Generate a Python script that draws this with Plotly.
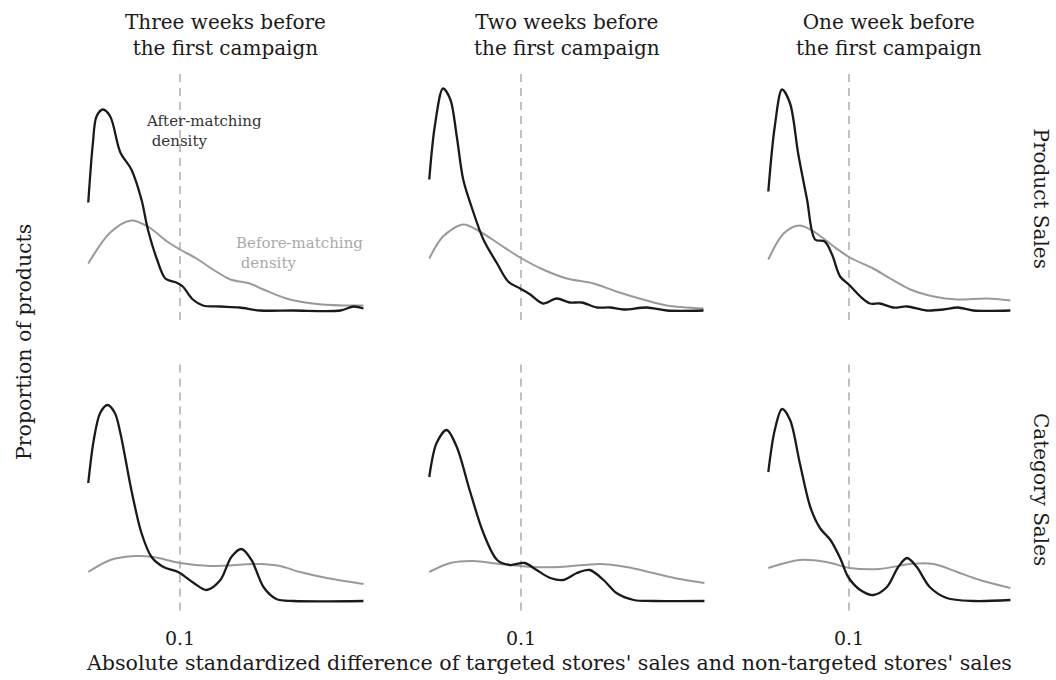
import plotly.graph_objects as go

# ---------------- data ----------------
col_titles = ["Three weeks before<br>the first campaign",
              "Two weeks before<br>the first campaign",
              "One week before<br>the first campaign"]
row_titles = ["Product Sales", "Category Sales"]
threshold = 0.1
tick_vals = [0.1]
tick_text = ["0.1"]

# Product Sales – three weeks before
p1_after_x = [0.000, 0.005, 0.009, 0.016, 0.024, 0.035, 0.047, 0.058, 0.065, 0.075, 0.084, 0.096, 0.103,
              0.114, 0.125, 0.144, 0.165, 0.187, 0.223, 0.275, 0.289, 0.300]
p1_after_y = [10.8, 16.7, 19.4, 20.1, 19.4, 15.8, 14.1, 11.1, 8.1, 5.1, 3.2, 2.8, 2.4,
              1.1, 0.5, 0.4, 0.3, 0.0, 0.0, 0.0, 0.4, 0.2]
p1_before_x = [0.000, 0.024, 0.047, 0.065, 0.086, 0.100, 0.118, 0.136, 0.155, 0.176, 0.191, 0.216, 0.245, 0.278, 0.300]
p1_before_y = [4.7, 7.8, 9.0, 8.4, 6.9, 6.1, 5.2, 4.1, 3.1, 2.7, 2.1, 1.2, 0.7, 0.5, 0.5]

# Product Sales – two weeks before
p2_after_x = [0.000, 0.006, 0.015, 0.023, 0.030, 0.037, 0.046, 0.059, 0.074, 0.086, 0.099, 0.110, 0.124,
              0.139, 0.153, 0.166, 0.183, 0.197, 0.212, 0.237, 0.259, 0.299]
p2_after_y = [13.1, 18.4, 22.2, 21.1, 17.4, 13.1, 10.4, 7.1, 4.7, 2.9, 2.2, 1.6, 0.7,
              1.2, 0.8, 0.8, 0.3, 0.3, 0.1, 0.3, 0.0, 0.0]
p2_before_x = [0.000, 0.015, 0.037, 0.055, 0.077, 0.099, 0.124, 0.150, 0.179, 0.204, 0.233, 0.259, 0.299]
p2_before_y = [5.2, 7.4, 8.6, 7.9, 6.6, 5.3, 4.1, 3.2, 2.7, 1.9, 1.1, 0.5, 0.2]

# Product Sales – one week before
p3_after_x = [0.000, 0.008, 0.017, 0.027, 0.037, 0.048, 0.058, 0.070, 0.079, 0.089, 0.101, 0.114, 0.126,
              0.138, 0.155, 0.172, 0.196, 0.217, 0.235, 0.254, 0.300]
p3_after_y = [11.9, 18.4, 22.1, 20.7, 15.7, 11.1, 7.1, 6.9, 5.6, 3.4, 2.5, 1.4, 0.7,
              0.7, 0.3, 0.4, 0.0, 0.1, 0.3, 0.0, 0.0]
p3_before_x = [0.000, 0.019, 0.039, 0.060, 0.081, 0.101, 0.130, 0.151, 0.176, 0.205, 0.234, 0.271, 0.300]
p3_before_y = [5.1, 7.7, 8.5, 7.7, 6.4, 5.3, 4.2, 3.2, 2.1, 1.4, 1.1, 1.2, 1.0]

# Category Sales – three weeks before
c1_after_x = [0.000, 0.006, 0.013, 0.021, 0.029, 0.035, 0.047, 0.058, 0.069, 0.082, 0.098, 0.115, 0.129,
              0.144, 0.156, 0.167, 0.178, 0.191, 0.205, 0.224, 0.300]
c1_after_y = [11.8, 16.1, 18.8, 19.6, 18.8, 16.8, 11.1, 6.8, 4.4, 3.4, 2.9, 1.8, 1.1,
              2.1, 4.4, 5.2, 4.1, 1.4, 0.2, 0.0, 0.0]
c1_before_x = [0.000, 0.024, 0.051, 0.071, 0.100, 0.133, 0.187, 0.209, 0.231, 0.260, 0.300]
c1_before_y = [2.9, 4.1, 4.5, 4.4, 3.8, 3.5, 3.7, 3.5, 2.9, 2.3, 1.7]

# Category Sales – two weeks before
c2_after_x = [0.000, 0.008, 0.019, 0.030, 0.044, 0.059, 0.074, 0.088, 0.104, 0.117, 0.132, 0.146, 0.161,
              0.175, 0.190, 0.204, 0.223, 0.244, 0.300]
c2_after_y = [12.4, 15.8, 17.1, 15.4, 11.1, 6.8, 4.1, 3.6, 3.8, 3.1, 2.3, 2.1, 2.8,
              3.1, 2.1, 0.8, 0.1, 0.0, 0.0]
c2_before_x = [0.000, 0.023, 0.048, 0.077, 0.113, 0.143, 0.186, 0.215, 0.244, 0.273, 0.300]
c2_before_y = [2.9, 3.8, 4.0, 3.7, 3.4, 3.4, 3.7, 3.4, 2.8, 2.2, 1.8]

# Category Sales – one week before
c3_after_x = [0.000, 0.008, 0.017, 0.027, 0.039, 0.052, 0.064, 0.077, 0.089, 0.099, 0.114, 0.130, 0.147,
              0.161, 0.172, 0.184, 0.200, 0.221, 0.254, 0.300]
c3_after_y = [12.9, 17.1, 19.2, 18.1, 13.8, 9.4, 7.3, 6.1, 4.3, 2.4, 1.1, 0.6, 1.4,
              3.4, 4.3, 3.4, 1.4, 0.3, 0.0, 0.1]
c3_before_x = [0.000, 0.039, 0.072, 0.101, 0.138, 0.176, 0.205, 0.234, 0.262, 0.300]
c3_before_y = [3.3, 4.1, 3.9, 3.3, 3.2, 3.7, 3.7, 2.9, 2.1, 1.3]

after_series = [[(p1_after_x, p1_after_y), (p2_after_x, p2_after_y), (p3_after_x, p3_after_y)],
                [(c1_after_x, c1_after_y), (c2_after_x, c2_after_y), (c3_after_x, c3_after_y)]]
before_series = [[(p1_before_x, p1_before_y), (p2_before_x, p2_before_y), (p3_before_x, p3_before_y)],
                 [(c1_before_x, c1_before_y), (c2_before_x, c2_before_y), (c3_before_x, c3_before_y)]]

# ---------------- layout geometry ----------------
W, H = 1056, 680
FONT = "DejaVu Serif"
BLACK = "#1a1a1a"
GREY = "#999999"
DASH = "#c0c0c0"

col_px = [(74.5, 377.2), (415.5, 718.2), (756.2, 1022.5)]
row_px = [(73.0, 320.0), (363.5, 610.5)]
x_range = [-0.015, 0.315]
y_range = [-0.95, 23.75]

fig = go.Figure()

for r in range(2):
    for c in range(3):
        idx = r * 3 + c + 1
        xa = "x" if idx == 1 else f"x{idx}"
        ya = "y" if idx == 1 else f"y{idx}"
        bx, by = before_series[r][c]
        ax, ay = after_series[r][c]
        fig.add_trace(go.Scatter(x=bx, y=by, mode="lines", xaxis=xa, yaxis=ya,
                                 line=dict(color=GREY, width=2, shape="spline", smoothing=0.9),
                                 showlegend=False, hoverinfo="skip"))
        fig.add_trace(go.Scatter(x=ax, y=ay, mode="lines", xaxis=xa, yaxis=ya,
                                 line=dict(color=BLACK, width=2.3, shape="spline", smoothing=0.9),
                                 showlegend=False, hoverinfo="skip"))
        fig.add_shape(type="line", xref=xa, yref=f"{ya} domain", x0=threshold, x1=threshold,
                      y0=0, y1=1, line=dict(color=DASH, width=2, dash="8px,6px"), layer="below")
        x0, x1 = col_px[c]
        y0, y1 = row_px[r]
        xkey = "xaxis" if idx == 1 else f"xaxis{idx}"
        ykey = "yaxis" if idx == 1 else f"yaxis{idx}"
        fig.update_layout(**{
            xkey: dict(domain=[x0 / W, x1 / W], range=x_range, anchor=ya,
                       showgrid=False, zeroline=False, showline=False, ticks="",
                       tickvals=tick_vals, ticktext=tick_text,
                       showticklabels=(r == 1), ticklabelstandoff=14,
                       tickfont=dict(family=FONT, size=19, color=BLACK)),
            ykey: dict(domain=[1 - y1 / H, 1 - y0 / H], range=y_range, anchor=xa,
                       showgrid=False, zeroline=False, showline=False, ticks="",
                       showticklabels=False),
        })

annotations = []
for c in range(3):
    cx = (col_px[c][0] + col_px[c][1]) / 2 / W
    annotations.append(dict(text=col_titles[c], x=cx, y=1 - 35 / H, xref="paper", yref="paper",
                            showarrow=False, xanchor="center", yanchor="middle",
                            font=dict(family=FONT, size=20, color=BLACK)))
for r in range(2):
    cy = 1 - ((row_px[r][0] + row_px[r][1]) / 2 + 2) / H
    annotations.append(dict(text=row_titles[r], x=1041 / W, y=cy, xref="paper", yref="paper",
                            showarrow=False, textangle=90, xanchor="center", yanchor="middle",
                            font=dict(family=FONT, size=20, color=BLACK)))
annotations.append(dict(text="Absolute standardized difference of targeted stores' sales and non-targeted stores' sales",
                        x=548.5 / W, y=1 - 663 / H, xref="paper", yref="paper", showarrow=False,
                        xanchor="center", yanchor="middle",
                        font=dict(family=FONT, size=20.6, color=BLACK)))
annotations.append(dict(text="Proportion of products", x=24 / W, y=1 - 342 / H, xref="paper", yref="paper",
                        showarrow=False, textangle=-90, xanchor="center", yanchor="middle",
                        font=dict(family=FONT, size=20.5, color=BLACK)))
annotations.append(dict(text="After-matching<br>&nbsp;density", x=0.061, y=20.0, xref="x", yref="y",
                        showarrow=False, xanchor="left", yanchor="top", align="left",
                        font=dict(family=FONT, size=15, color="#333333")))
annotations.append(dict(text="Before-matching<br>&nbsp;density", x=0.159, y=7.8, xref="x", yref="y",
                        showarrow=False, xanchor="left", yanchor="top", align="left",
                        font=dict(family=FONT, size=15, color="#aaaaaa")))

fig.update_layout(width=W, height=H, margin=dict(l=0, r=0, t=0, b=0),
                  paper_bgcolor="white", plot_bgcolor="white",
                  annotations=annotations, showlegend=False)

fig.write_html("out.html")
